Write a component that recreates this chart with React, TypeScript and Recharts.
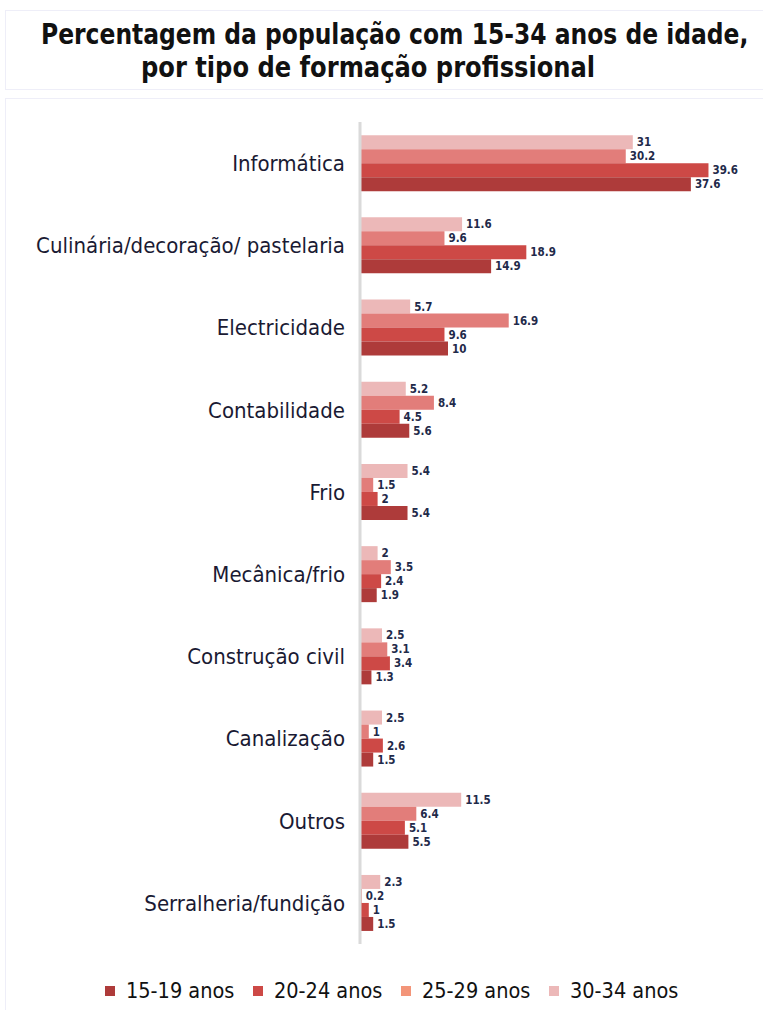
import React from 'react';
import { BarChart, Bar, XAxis, YAxis, LabelList } from 'recharts';

const categories = [
  'Informática',
  'Culinária/decoração/ pastelaria',
  'Electricidade',
  'Contabilidade',
  'Frio',
  'Mecânica/frio',
  'Construção civil',
  'Canalização',
  'Outros',
  'Serralheria/fundição',
];
const age15to19 = [37.6, 14.9, 10, 5.6, 5.4, 1.9, 1.3, 1.5, 5.5, 1.5];
const age20to24 = [39.6, 18.9, 9.6, 4.5, 2, 2.4, 3.4, 2.6, 5.1, 1];
const age25to29 = [30.2, 9.6, 16.9, 8.4, 1.5, 3.5, 3.1, 1, 6.4, 0.2];
const age30to34 = [31, 11.6, 5.7, 5.2, 5.4, 2, 2.5, 2.5, 11.5, 2.3];

const seriesNames = ['15-19 anos', '20-24 anos', '25-29 anos', '30-34 anos'];
const barColors = ['#AE3B3A', '#CD4946', '#E27D7A', '#ECB8B8'];
const legendColors = ['#AE3B3A', '#CD4946', '#F39579', '#ECB8B8'];

const data = categories.map((name, i) => ({
  name,
  a: age15to19[i],
  b: age20to24[i],
  c: age25to29[i],
  d: age30to34[i],
}));

const FONT = '"Liberation Sans Narrow", "DejaVu Sans Condensed", "Open Sans", sans-serif';
const labelStyle = { fontSize: 11.5, fontWeight: 700, fill: '#1F2A4A', fontFamily: FONT };

const App: React.FC = () => {
  // bars are drawn top to bottom: 30-34, 25-29, 20-24, 15-19
  const order: Array<[string, number]> = [
    ['d', 3],
    ['c', 2],
    ['b', 1],
    ['a', 0],
  ];

  const titleLine: React.CSSProperties = {
    position: 'absolute',
    whiteSpace: 'nowrap',
    transformOrigin: 'left center',
  };

  return (
    <div style={{ position: 'absolute', left: 0, top: 0, width: 763, height: 1010, background: '#fff', fontFamily: FONT, overflow: 'hidden' }}>
      <div
        style={{
          position: 'absolute',
          left: 5,
          top: 10,
          width: 770,
          height: 78,
          border: '1.5px solid #EEEEF8',
          color: '#111',
          fontWeight: 700,
          fontSize: 28,
          lineHeight: '33px',
        }}
      >
        <div style={{ ...titleLine, left: 35, top: 7, transform: 'scaleX(0.93)' }}>
          Percentagem da população com 15-34 anos de idade,
        </div>
        <div style={{ ...titleLine, left: 135, top: 40, transform: 'scaleX(0.96)' }}>
          por tipo de formação profissional
        </div>
      </div>
      <div
        style={{
          position: 'absolute',
          left: 5,
          top: 98,
          width: 770,
          height: 930,
          border: '1.5px solid #EEEEF8',
        }}
      />
      <div style={{ position: 'absolute', left: 0, top: 0 }}>
        <BarChart
          width={763}
          height={1010}
          data={data}
          layout="vertical"
          margin={{ top: 122, right: 7, bottom: 66, left: 0 }}
          barCategoryGap="16%"
          barGap={0}
        >
          <XAxis type="number" domain={[0, 45]} hide />
          <YAxis
            type="category"
            dataKey="name"
            width={360}
            axisLine={{ stroke: '#DADADA', strokeWidth: 3 }}
            tickLine={false}
            tickSize={0}
            tickMargin={15}
            interval={0}
            tick={{ fontSize: 22, fill: '#1A1A33', fontFamily: FONT }}
          />
          {order.map(([key, idx]) => (
            <Bar key={key} dataKey={key} name={seriesNames[idx]} fill={barColors[idx]} isAnimationActive={false}>
              <LabelList dataKey={key} position="right" offset={4} style={labelStyle} />
            </Bar>
          ))}
        </BarChart>
      </div>
      <div
        style={{
          position: 'absolute',
          left: 105,
          top: 978,
          display: 'flex',
          alignItems: 'center',
          fontSize: 21.5,
          color: '#111',
          whiteSpace: 'nowrap',
        }}
      >
        {seriesNames.map((n, i) => (
          <div key={n} style={{ display: 'flex', alignItems: 'center', width: 148 }}>
            <span style={{ display: 'inline-block', width: 10, height: 10, background: legendColors[i], marginRight: 11 }} />
            <span>{n}</span>
          </div>
        ))}
      </div>
    </div>
  );
};

export default App;
